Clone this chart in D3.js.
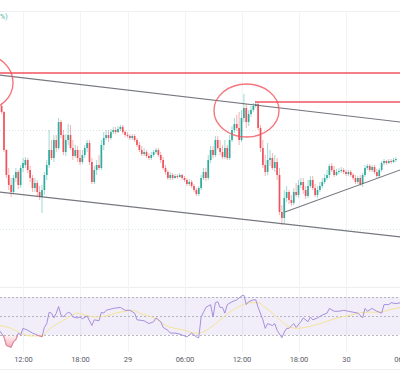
<!DOCTYPE html>
<html><head><meta charset="utf-8">
<script src="https://cdn.jsdelivr.net/npm/d3@7"></script>
<style>html,body{margin:0;padding:0;background:#fff;overflow:hidden}</style>
</head><body>
<svg id="c" width="400" height="385"></svg>
<script>
// OHLC rows: [open, high, low, close], 15-minute candles
const candles = [
[2394,2397,2386,2388],[2388,2389,2348,2350],[2350,2351,2322,2325],[2325,2332,2310,2315],[2315,2322,2303,2308],
[2308,2325,2306,2322],[2322,2332,2318,2328],[2328,2330,2311,2315],[2315,2335,2312,2332],[2332,2342,2328,2337],
[2335,2343,2332,2340],[2340,2342,2327,2330],[2330,2334,2318,2322],[2322,2325,2308,2312],[2312,2322,2308,2317],
[2317,2320,2304,2308],[2308,2314,2300,2303],[2303,2315,2287,2310],[2310,2328,2305,2325],[2325,2340,2320,2335],
[2335,2370,2332,2350],[2350,2360,2340,2342],[2342,2365,2338,2360],[2360,2365,2348,2352],[2352,2382,2350,2378],
[2378,2380,2362,2365],[2365,2370,2345,2348],[2348,2366,2344,2360],[2360,2376,2355,2365],[2365,2375,2350,2352],
[2352,2360,2340,2344],[2344,2355,2342,2350],[2350,2354,2338,2342],[2342,2350,2335,2338],[2338,2350,2336,2345],
[2345,2355,2342,2352],[2352,2360,2348,2357],[2357,2360,2335,2338],[2338,2342,2316,2318],[2318,2334,2316,2330],
[2330,2340,2325,2335],[2335,2345,2330,2332],[2332,2360,2330,2355],[2355,2368,2350,2362],[2362,2370,2360,2365],
[2365,2370,2358,2362],[2362,2371,2360,2368],[2368,2373,2366,2370],[2370,2373,2366,2368],[2368,2374,2367,2371],
[2371,2375,2369,2373],[2373,2375,2366,2368],[2368,2370,2363,2365],[2365,2368,2362,2364],[2364,2366,2360,2362],
[2362,2366,2360,2364],[2364,2366,2358,2360],[2360,2362,2353,2355],[2355,2358,2348,2350],[2350,2354,2344,2346],
[2346,2352,2344,2348],[2348,2350,2342,2344],[2344,2347,2340,2342],[2342,2348,2340,2345],[2345,2350,2343,2348],
[2348,2352,2346,2350],[2350,2352,2343,2345],[2345,2348,2337,2340],[2340,2343,2330,2332],[2332,2335,2325,2328],
[2328,2330,2320,2322],[2322,2328,2320,2325],[2325,2327,2320,2322],[2322,2326,2321,2324],[2324,2326,2321,2323],
[2323,2327,2322,2325],[2325,2326,2320,2322],[2322,2324,2318,2320],[2320,2322,2314,2316],[2316,2321,2314,2318],
[2318,2320,2312,2314],[2314,2316,2308,2310],[2310,2312,2304,2306],[2306,2314,2304,2312],[2312,2325,2310,2322],
[2322,2332,2320,2328],[2328,2332,2319,2322],[2322,2345,2320,2340],[2340,2354,2337,2350],[2350,2354,2342,2345],
[2345,2364,2343,2360],[2360,2364,2350,2352],[2352,2360,2345,2348],[2348,2355,2341,2343],[2343,2360,2341,2352],
[2352,2355,2340,2342],[2342,2365,2340,2360],[2360,2374,2358,2370],[2370,2382,2367,2376],[2376,2385,2369,2372],
[2372,2388,2355,2360],[2360,2390,2358,2382],[2382,2406,2378,2392],[2392,2396,2372,2378],[2378,2390,2374,2386],
[2386,2394,2383,2390],[2390,2397,2388,2394],[2394,2399,2392,2396],[2396,2398,2370,2372],[2372,2375,2348,2352],
[2352,2360,2332,2335],[2335,2345,2324,2328],[2328,2357,2325,2340],[2340,2350,2334,2342],[2342,2347,2330,2332],
[2332,2345,2328,2338],[2338,2342,2320,2325],[2325,2332,2285,2288],[2288,2295,2275,2282],[2282,2310,2276,2302],
[2302,2314,2298,2308],[2308,2310,2296,2300],[2300,2305,2294,2297],[2297,2312,2295,2308],[2308,2317,2303,2305],
[2305,2320,2302,2315],[2315,2322,2312,2318],[2318,2322,2306,2310],[2310,2314,2301,2304],[2304,2320,2302,2314],
[2314,2324,2312,2320],[2320,2324,2310,2312],[2312,2316,2303,2305],[2305,2314,2302,2310],[2310,2318,2308,2314],
[2314,2322,2312,2318],[2318,2326,2316,2322],[2322,2330,2320,2325],[2325,2336,2322,2334],[2334,2337,2328,2330],
[2330,2334,2323,2325],[2325,2331,2324,2328],[2328,2332,2326,2329],[2329,2333,2327,2330],[2330,2332,2326,2328],
[2328,2330,2324,2326],[2326,2330,2324,2328],[2328,2330,2323,2325],[2325,2327,2320,2322],[2322,2325,2316,2318],
[2318,2324,2316,2322],[2322,2325,2314,2316],[2316,2327,2313,2325],[2325,2335,2323,2332],[2332,2336,2330,2334],
[2334,2336,2328,2330],[2330,2335,2328,2333],[2333,2335,2326,2328],[2328,2331,2322,2324],[2324,2332,2322,2330],
[2330,2339,2328,2337],[2337,2341,2335,2339],[2339,2340,2335,2337],[2337,2341,2336,2339],[2339,2341,2336,2338],
[2338,2342,2337,2340],[2340,2343,2338,2341]
];
const tickIndex = [9,33,53,77,101,125,145,169];
const tickLabels = ["12:00","18:00","29","06:00","12:00","18:00","30","06:00"];
const upperChannel = [[-1,2425],[170,2377.4]];
const lowerChannel = [[-1,2308],[170,2262.5]];
const risingTrend = [[119.3,2288],[170,2332]];
const resistance1 = [[-1,2427],[170,2427]];
const resistance2 = [[106.7,2398],[170,2398]];
const ellipses = [{i:-7,p:2417.5,ri:11.8,rp:27},{i:103.1,p:2389.5,ri:13.7,rp:26.5}];
const gridPrices = [2370, 2271];
const rsiPoints = [[-1,35],[1,28],[2,19],[4,17],[5,23],[6,25],[7,32],[8,30],[9,37],[10,36],[11,35],[13,32],[14,31],[15,30],[17,28],[18,38],[19,42],[20,54],[21,53],[22,48],[23,53],[24,60],[25,51],[26,49],[28,54],[29,53],[30,49],[32,48],[33,49],[34,47],[36,50],[38,40],[39,46],[41,45],[42,54],[43,53],[44,56],[47,58],[50,59],[52,56],[54,56],[56,53],[57,46],[60,45],[62,42],[64,44],[65,48],[67,44],[68,38],[70,35],[71,32],[73,32],[75,31],[78,28],[80,32],[82,28],[83,27],[84,49],[86,59],[88,62],[89,49],[90,64],[91,65],[92,59],[93,59],[94,53],[95,62],[97,65],[99,67],[101,71],[102,72],[103,62],[104,65],[106,67],[107,67],[108,59],[110,46],[111,37],[112,42],[114,40],[115,42],[116,35],[118,27],[119,33],[120,37],[121,37],[123,42],[124,38],[126,44],[127,48],[129,44],[130,49],[131,46],[133,48],[135,51],[137,53],[138,58],[140,55],[142,55],[144,56],[146,55],[148,54],[150,53],[152,48],[153,58],[154,55],[156,58],[158,55],[160,53],[161,62],[163,62],[164,64],[166,63],[168,64]];
const rsiMa = [[-1,40],[4,37],[8,32],[12,29],[16,29],[18,31],[20,36],[25,44],[29,50],[32,53],[35,51],[39,49],[44,50],[48,53],[52,55],[55,56],[58,53],[65,47],[69,40],[73,37],[77,35],[81,32],[83,32],[88,38],[92,46],[96,54],[100,60],[105,64],[108,64],[111,59],[115,51],[119,42],[124,37],[128,38],[134,42],[140,47],[147,51],[153,54],[159,54],[164,57],[168,59]];
const rsiLevels = [70,50,30];

const svg = d3.select("#c");
const x = d3.scaleLinear().domain([0,166]).range([1.625,395.875]);
const y = d3.scaleLinear().domain([2500,2210]).range([0,290]);
const yr = d3.scaleLinear().domain([100,0]).range([268.5,363.5]);

const defs = svg.append("defs");
defs.append("clipPath").attr("id","mainClip").append("rect").attr("x",0).attr("y",12).attr("width",400).attr("height",275);
defs.append("clipPath").attr("id","rsiClip").append("rect").attr("x",0).attr("y",288).attr("width",400).attr("height",64);
defs.append("clipPath").attr("id","osClip").append("rect").attr("x",0).attr("y",yr(30)).attr("width",400).attr("height",40);

// frame lines
svg.append("g").selectAll("line").data([11,287,369]).join("line")
  .attr("x1",0).attr("x2",400).attr("y1",d=>d+0.5).attr("y2",d=>d+0.5)
  .attr("stroke","#eceef2").attr("stroke-width",1);

// vertical grid
svg.append("g").selectAll("line").data(tickIndex).join("line")
  .attr("x1",d=>Math.round(x(d))+0.5).attr("x2",d=>Math.round(x(d))+0.5)
  .attr("y1",12).attr("y2",352).attr("stroke","#f1f3f7").attr("stroke-width",1);

const main = svg.append("g").attr("clip-path","url(#mainClip)");
// horizontal grid
main.append("g").selectAll("line").data(gridPrices).join("line")
  .attr("x1",0).attr("x2",400).attr("y1",d=>Math.round(y(d))+0.5).attr("y2",d=>Math.round(y(d))+0.5)
  .attr("stroke","#d6e6e2").attr("stroke-dasharray","1,2").attr("stroke-width",1);

// candles
const up = "#2eab9c", dn = "#f0525c";
const cg = main.append("g");
cg.selectAll("line").data(candles).join("line")
  .attr("x1",(d,i)=>x(i)).attr("x2",(d,i)=>x(i))
  .attr("y1",d=>y(d[1])).attr("y2",d=>y(d[2]))
  .attr("stroke",d=>d[3]>=d[0]?up:dn).attr("stroke-opacity",0.45).attr("stroke-width",1);
cg.selectAll("rect").data(candles).join("rect")
  .attr("x",(d,i)=>x(i)-0.85).attr("width",1.7)
  .attr("y",d=>y(Math.max(d[0],d[3])))
  .attr("height",d=>Math.max(1,Math.abs(y(d[0])-y(d[3]))))
  .attr("fill",d=>d[3]>=d[0]?up:dn);

// trend lines
const ln = d3.line().x(d=>x(d[0])).y(d=>y(d[1]));
[upperChannel,lowerChannel,risingTrend].forEach(l=>{
  main.append("path").attr("d",ln(l)).attr("fill","none").attr("stroke","#5d6068").attr("stroke-width",1.1).attr("stroke-opacity",0.85);
});
[resistance1,resistance2].forEach(l=>{
  main.append("path").attr("d",ln(l)).attr("fill","none").attr("stroke","#f2545f").attr("stroke-width",2).attr("stroke-opacity",0.75);
});
main.append("g").selectAll("ellipse").data(ellipses).join("ellipse")
  .attr("cx",d=>x(d.i)).attr("cy",d=>y(d.p))
  .attr("rx",d=>x(d.i+d.ri)-x(d.i)).attr("ry",d=>y(d.p-d.rp)-y(d.p))
  .attr("fill","none").attr("stroke","#f2545f").attr("stroke-width",1.4).attr("stroke-opacity",0.8);

// legend fragment
svg.append("text").attr("x",0).attr("y",19).text("%)")
  .attr("font-family","Roboto, sans-serif").attr("font-size",7).attr("fill","#4cb5a8");

// RSI pane
const rg = svg.append("g").attr("clip-path","url(#rsiClip)");
rg.append("rect").attr("x",0).attr("width",400).attr("y",yr(70)).attr("height",yr(30)-yr(70)).attr("fill","#7e57c2").attr("fill-opacity",0.1);
rg.append("g").selectAll("line").data(rsiLevels).join("line")
  .attr("x1",0).attr("x2",400).attr("y1",d=>Math.round(yr(d))+0.5).attr("y2",d=>Math.round(yr(d))+0.5)
  .attr("stroke","#9a9ca6").attr("stroke-opacity",0.7).attr("stroke-dasharray","2,2").attr("stroke-width",1);
const grad = defs.append("linearGradient").attr("id","osGrad").attr("x1",0).attr("x2",0).attr("y1",0).attr("y2",1);
grad.append("stop").attr("offset","0%").attr("stop-color","#f23645").attr("stop-opacity",0.05);
grad.append("stop").attr("offset","100%").attr("stop-color","#f23645").attr("stop-opacity",0.4);
const osArea = d3.area().x(d=>x(d[0])).y0(yr(30)).y1(d=>yr(Math.min(d[1],30)));
rg.append("path").datum(rsiPoints.slice(0,20)).attr("d",osArea).attr("fill","url(#osGrad)").attr("clip-path","url(#osClip)");
rg.append("path").datum(rsiMa).attr("d",d3.line().x(d=>x(d[0])).y(d=>yr(d[1])).curve(d3.curveMonotoneX)).attr("fill","none").attr("stroke","#f5e397").attr("stroke-width",1);
const rl = d3.line().x(d=>x(d[0])).y(d=>yr(d[1]));
rg.append("path").datum(rsiPoints).attr("d",rl).attr("fill","none").attr("stroke","#a590dc").attr("stroke-width",1);
rg.append("path").datum(rsiPoints.slice(0,20)).attr("d",rl).attr("fill","none").attr("stroke","#f08a93").attr("stroke-width",1).attr("clip-path","url(#osClip)");

// time axis
const axis = d3.axisBottom(x).tickValues(tickIndex).tickFormat((d,i)=>tickLabels[i]).tickSize(0).tickPadding(0);
const ag = svg.append("g").attr("transform","translate(0,357)").call(axis);
ag.select(".domain").remove();
ag.selectAll("text").attr("font-family","Roboto, 'Liberation Sans', sans-serif").attr("font-size",7.5).attr("fill","#5a5d68");
</script>
</body></html>
